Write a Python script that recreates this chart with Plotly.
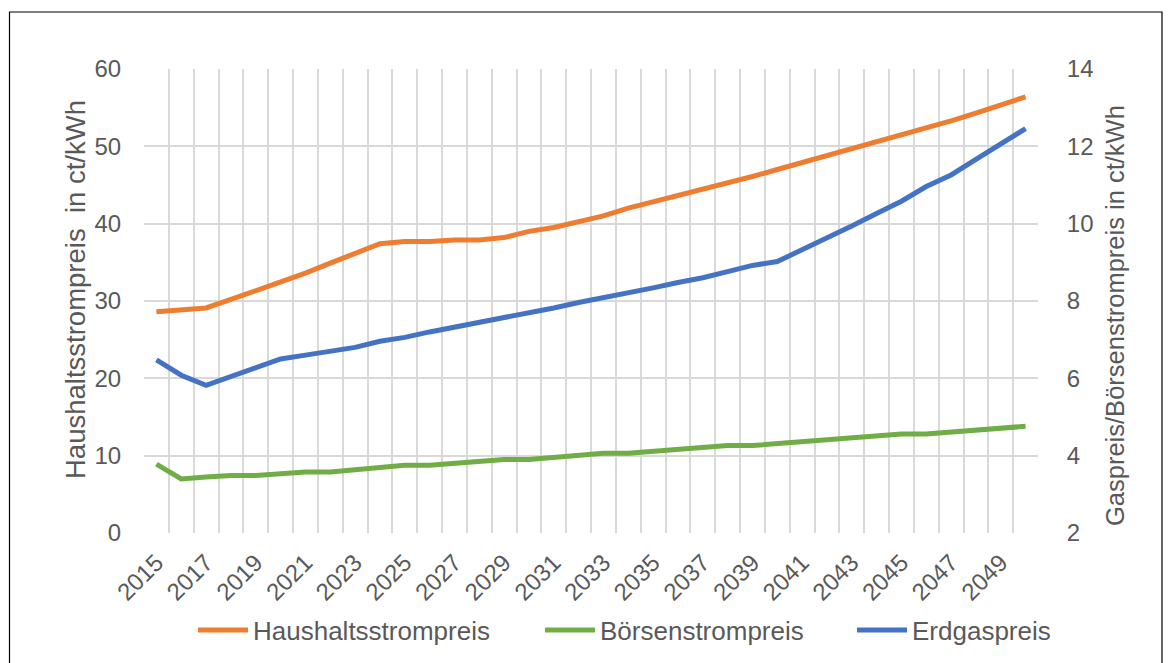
import plotly.graph_objects as go

years = list(range(2015, 2051))
tick_years = years[::2]
tick_labels = [str(y) for y in tick_years]

haushaltsstrom = [28.6, 28.8, 29.1, 30.2, 31.3, 32.4, 33.6, 34.9, 36.1, 37.4,
                  37.7, 37.7, 37.9, 37.9, 38.2, 39.0, 39.5, 40.2, 41.0, 42.0,
                  42.8, 43.6, 44.4, 45.2, 46.1, 47.0, 47.9, 48.7, 49.6, 50.5,
                  51.4, 52.3, 53.3, 54.3, 55.4, 56.4]

boersenstrom = [3.78, 3.40, 3.45, 3.49, 3.49, 3.54, 3.58, 3.58, 3.64, 3.70,
                3.75, 3.75, 3.80, 3.85, 3.90, 3.90, 3.96, 4.01, 4.06, 4.06,
                4.11, 4.16, 4.21, 4.26, 4.26, 4.31, 4.36, 4.41, 4.46, 4.51,
                4.56, 4.56, 4.61, 4.66, 4.71, 4.76]

erdgas = [6.48, 6.08, 5.82, 6.04, 6.26, 6.50, 6.60, 6.70, 6.80, 6.96,
          7.06, 7.20, 7.32, 7.46, 7.56, 7.70, 7.82, 7.96, 8.08, 8.22,
          8.34, 8.48, 8.60, 8.76, 8.92, 9.02, 9.32, 9.64, 9.94, 10.26,
          10.58, 10.96, 11.26, 11.66, 12.06, 12.46]

left_title = "Haushaltsstrompreis  in ct/kWh"
right_title = "Gaspreis/Börsenstrompreis in ct/kWh"

ORANGE = "#ED7D31"
GREEN = "#70AD47"
BLUE = "#4472C4"
GRID = "#D9D9D9"
TXT = "#595959"
FONT = "Liberation Sans, Arial, sans-serif"

fig = go.Figure()
fig.add_trace(go.Scatter(x=years, y=haushaltsstrom, name="Haushaltsstrompreis",
                         mode="lines", line=dict(color=ORANGE, width=5),
                         yaxis="y", legendwidth=282))
fig.add_trace(go.Scatter(x=years, y=boersenstrom, name="Börsenstrompreis",
                         mode="lines", line=dict(color=GREEN, width=5),
                         yaxis="y2", legendwidth=247))
fig.add_trace(go.Scatter(x=years, y=erdgas, name="Erdgaspreis",
                         mode="lines", line=dict(color=BLUE, width=5),
                         yaxis="y2", legendwidth=150))

# page coordinates of the plot area (page has an 8px body margin)
OFF = 8
L, R, T, B = 144, 1038, 69, 533
W, H = 1172 - OFF, 663 - OFF
pw, ph = R - L, B - T

def px(x):
    return (x - L) / pw

def py(y):
    return (B - y) / ph

fig.update_layout(
    width=W, height=H,
    margin=dict(l=L - OFF, r=W - (R - OFF), t=T - OFF, b=H - (B - OFF),
                autoexpand=False),
    paper_bgcolor="white", plot_bgcolor="white",
    font=dict(family=FONT, color=TXT, size=24),
    showlegend=True,
    legend=dict(orientation="h", x=px(193), xanchor="left",
                y=py(630), yanchor="middle",
                font=dict(size=26, color=TXT), bgcolor="rgba(0,0,0,0)",
                itemwidth=50, tracegroupgap=0),
    xaxis=dict(range=[2014.5, 2050.5], tickmode="array",
               tickvals=tick_years, ticktext=tick_labels,
               tickangle=-45, tickfont=dict(size=24, color=TXT),
               showgrid=False, zeroline=False, showline=False,
               ticks="outside", ticklen=5, tickcolor="rgba(0,0,0,0)",
               minor=dict(tick0=2014.5, dtick=1, showgrid=True,
                          gridcolor=GRID, gridwidth=1.5, ticks="")),
    yaxis=dict(range=[0, 60], dtick=10, tick0=0, showgrid=True,
               gridcolor=GRID, gridwidth=1.5, zeroline=False, showline=False,
               tickfont=dict(size=24, color=TXT),
               ticks="outside", ticklen=17, tickcolor="rgba(0,0,0,0)"),
    yaxis2=dict(range=[2, 14], dtick=2, tick0=2, overlaying="y", side="right",
                showgrid=False, zeroline=False, showline=False,
                tickfont=dict(size=24, color=TXT),
                ticks="outside", ticklen=23, tickcolor="rgba(0,0,0,0)"),
    annotations=[
        dict(text=left_title, textangle=-90, showarrow=False,
             xref="paper", yref="paper", x=px(75), y=py(290),
             xanchor="center", yanchor="middle",
             font=dict(size=27.5, color=TXT)),
        dict(text=right_title, textangle=-90, showarrow=False,
             xref="paper", yref="paper", x=px(1115), y=py(316),
             xanchor="center", yanchor="middle",
             font=dict(size=25.5, color=TXT)),
    ],
    shapes=[dict(type="rect", xref="paper", yref="paper",
                 x0=px(9.5), x1=px(1162), y0=py(690), y1=py(12),
                 line=dict(color="black", width=1.2), layer="below")],
)

fig.write_html("out.html")
